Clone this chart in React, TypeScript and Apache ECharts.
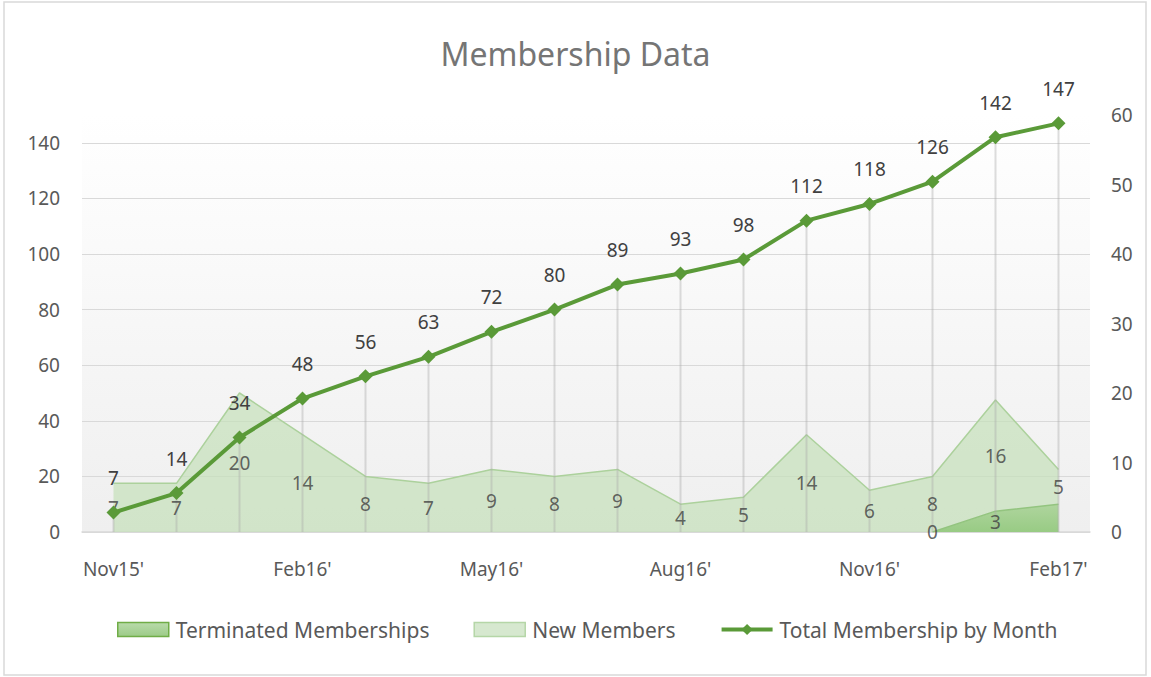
import React, { useEffect, useRef } from "react";
import * as echarts from "echarts";

const categories = ["Nov15'", "Dec15'", "Jan16'", "Feb16'", "Mar16'", "Apr16'", "May16'", "Jun16'", "Jul16'", "Aug16'", "Sep16'", "Oct16'", "Nov16'", "Dec16'", "Jan17'", "Feb17'"];
const totalMembership = [7, 14, 34, 48, 56, 63, 72, 80, 89, 93, 98, 112, 118, 126, 142, 147];
const newMembers = [7, 7, 20, 14, 8, 7, 9, 8, 9, 4, 5, 14, 6, 8, 16, 5];
const terminated: (number | null)[] = [null, null, null, null, null, null, null, null, null, null, null, null, null, 0, 3, 4];
const terminatedLabelShown = [false, false, false, false, false, false, false, false, false, false, false, false, false, true, true, false];
const leftTicks = { min: 0, max: 150, interval: 20 };
const rightTicks = { min: 0, max: 60, interval: 10 };

const FONT = "'Noto Sans', sans-serif";
const TEXT = "#595959";
const LABEL = "#404040";

export default function App() {
  const ref = useRef<HTMLDivElement>(null);
  useEffect(() => {
    document.body.style.margin = "0";
    const chart = echarts.init(ref.current!, undefined, { renderer: "svg" });

    const newLabelData = newMembers.map((n, i) => [categories[i], (terminated[i] || 0) + n / 2, n]);
    const termLabelData = terminated
      .map((t, i) => (t !== null && terminatedLabelShown[i] ? [categories[i], t / 2, t] : null))
      .filter((d) => d !== null);

    chart.setOption({
      animation: false,
      textStyle: { fontFamily: FONT },
      title: {
        text: "Membership Data",
        left: "center",
        top: 32,
        textStyle: { fontFamily: FONT, fontSize: 32, fontWeight: "normal", color: "#757575" },
      },
      graphic: [
        {
          type: "rect",
          shape: { x: 4, y: 2, width: 1142, height: 673 },
          style: { fill: "none", stroke: "#d9d9d9", lineWidth: 1.5 },
          silent: true,
        },
      ],
      legend: {
        bottom: 32,
        left: 112,
        itemWidth: 51,
        itemHeight: 14,
        itemGap: 44,
        textStyle: { fontFamily: FONT, fontSize: 21, color: TEXT, padding: [0, 0, 0, 2] },
        data: [
          {
            name: "Terminated Memberships",
            icon: "rect",
            itemStyle: {
              color: new echarts.graphic.LinearGradient(0, 0, 0, 1, [
                { offset: 0, color: "#b9dbab" },
                { offset: 1, color: "#9ccb87" },
              ]),
              borderColor: "#70ad47",
              borderWidth: 1.5,
            },
          },
          {
            name: "New Members",
            icon: "rect",
            itemStyle: { color: "#d6e8cf", borderColor: "#b5d6a7", borderWidth: 1.5 },
          },
          { name: "Total Membership by Month", lineStyle: { width: 4, color: "#5a9a38" } },
        ],
      },
      grid: {
        left: 82,
        right: 61,
        top: 115,
        bottom: 145,
        show: true,
        borderWidth: 0,
        backgroundColor: new echarts.graphic.LinearGradient(0, 0, 0, 1, [
          { offset: 0, color: "#ffffff" },
          { offset: 1, color: "#efefef" },
        ]),
      },
      xAxis: {
        type: "category",
        data: categories,
        boundaryGap: true,
        axisLine: { lineStyle: { color: "#d9d9d9", width: 1.5 } },
        axisTick: { show: false },
        axisLabel: { interval: 2, margin: 27, fontSize: 19, color: TEXT, fontFamily: FONT },
        splitLine: { show: false },
      },
      yAxis: [
        {
          type: "value",
          min: leftTicks.min,
          max: leftTicks.max,
          interval: leftTicks.interval,
          axisLine: { show: false },
          axisTick: { show: false },
          axisLabel: { fontSize: 19, color: TEXT, margin: 22, showMaxLabel: false, fontFamily: FONT },
          splitLine: { show: true, showMaxLine: false, lineStyle: { color: "#d9d9d9", width: 1 } },
        },
        {
          type: "value",
          min: rightTicks.min,
          max: rightTicks.max,
          interval: rightTicks.interval,
          axisLine: { show: false },
          axisTick: { show: false },
          axisLabel: { fontSize: 19, color: TEXT, margin: 21, fontFamily: FONT },
          splitLine: { show: false },
        },
      ],
      series: [
        {
          name: "Terminated Memberships",
          type: "line",
          yAxisIndex: 1,
          stack: "members",
          data: terminated.map((v) => (v === null ? "-" : v)),
          symbol: "none",
          lineStyle: { color: "#93c47f", width: 1.5 },
          itemStyle: { color: "#93c47f" },
          areaStyle: {
            opacity: 1,
            color: new echarts.graphic.LinearGradient(0, 0, 0, 1, [
              { offset: 0, color: "#afd59e" },
              { offset: 1, color: "#98cb84" },
            ]),
          },
          z: 2,
        },
        {
          name: "New Members",
          type: "line",
          yAxisIndex: 1,
          stack: "members",
          data: newMembers,
          symbol: "none",
          lineStyle: { color: "#acd19c", width: 1.5 },
          itemStyle: { color: "#acd19c" },
          areaStyle: { opacity: 1, color: "rgba(197,224,185,0.7)" },
          z: 2,
        },
        {
          name: "dropLines",
          type: "bar",
          yAxisIndex: 0,
          data: totalMembership,
          barWidth: 2,
          itemStyle: { color: "rgba(170,170,170,0.4)" },
          silent: true,
          z: 3,
        },
        {
          name: "Total Membership by Month",
          type: "line",
          yAxisIndex: 0,
          data: totalMembership,
          symbol: "diamond",
          symbolSize: 14,
          lineStyle: { color: "#5a9a38", width: 4 },
          itemStyle: { color: "#5a9a38" },
          label: {
            show: true,
            position: "top",
            distance: 18,
            fontSize: 19,
            color: LABEL,
            fontFamily: FONT,
          },
          z: 5,
        },
        {
          name: "newLabels",
          type: "scatter",
          yAxisIndex: 1,
          data: newLabelData,
          symbolSize: 0,
          silent: true,
          label: {
            show: true,
            position: "inside",
            fontSize: 19,
            color: LABEL,
            fontFamily: FONT,
            formatter: (p: any) => String(p.value[2]),
          },
          z: 4,
        },
        {
          name: "terminatedLabels",
          type: "scatter",
          yAxisIndex: 1,
          data: termLabelData,
          symbolSize: 0,
          silent: true,
          label: {
            show: true,
            position: "inside",
            fontSize: 19,
            color: LABEL,
            fontFamily: FONT,
            formatter: (p: any) => String(p.value[2]),
          },
          z: 4,
        },
      ],
    });
    return () => chart.dispose();
  }, []);
  return <div ref={ref} style={{ width: 1151, height: 677 }} />;
}
